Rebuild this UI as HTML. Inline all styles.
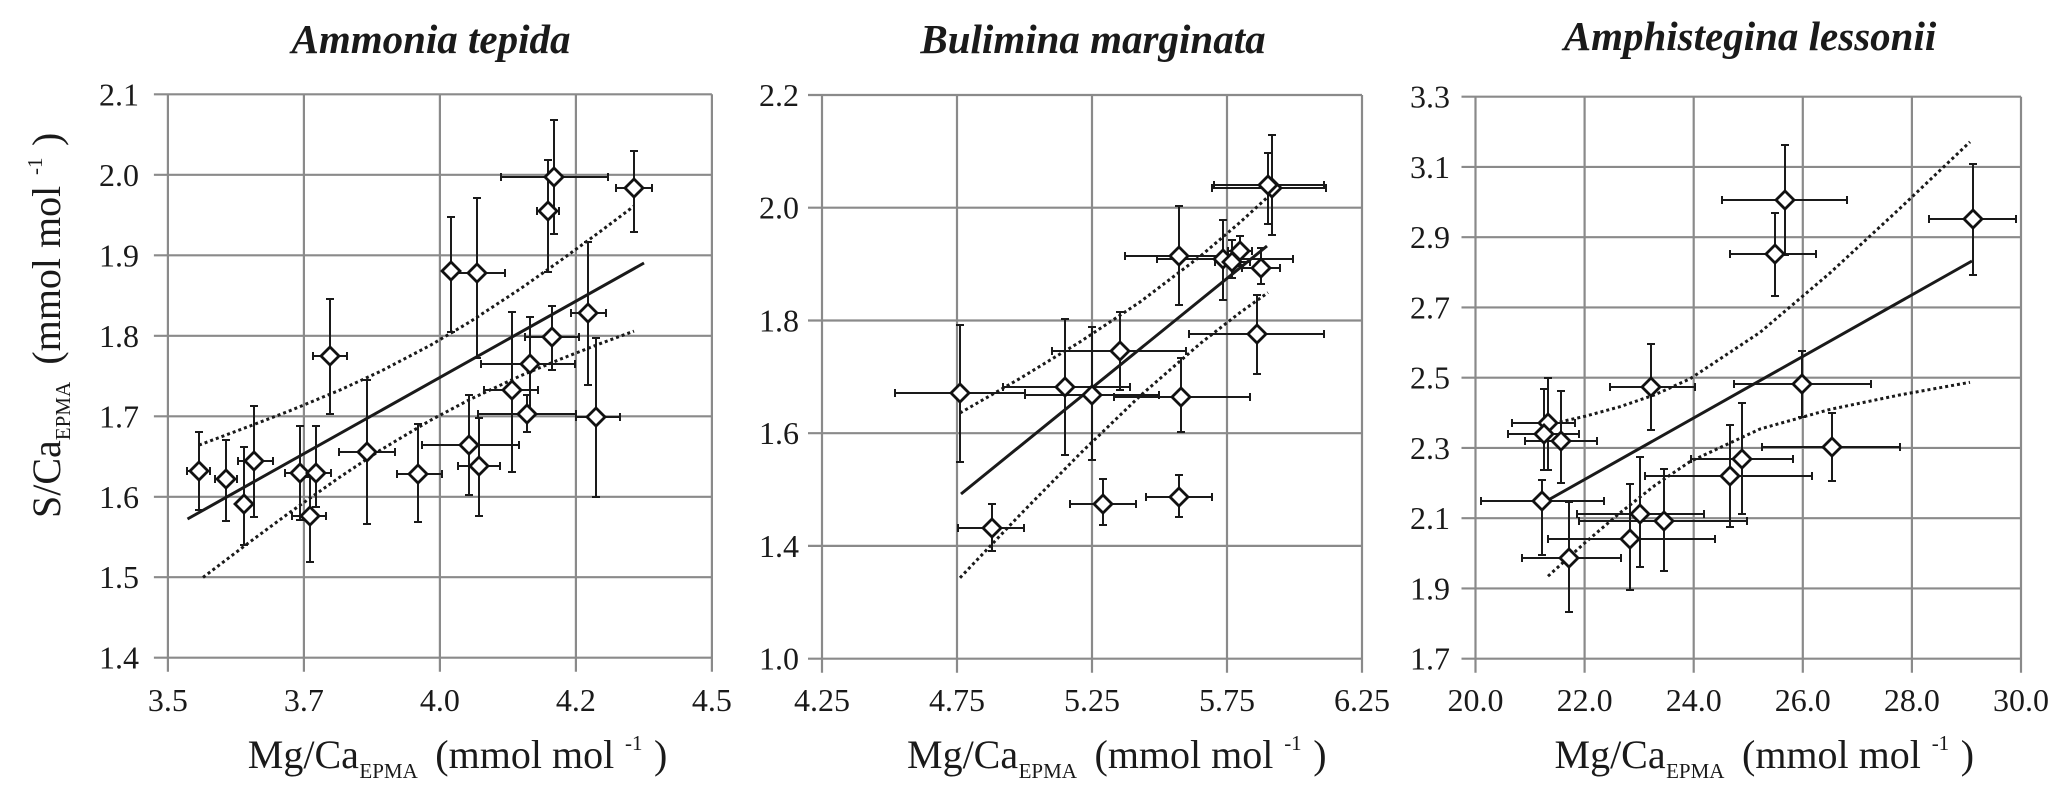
<!DOCTYPE html>
<html><head><meta charset="utf-8"><style>
html,body{margin:0;padding:0;background:#fff;}
svg{display:block;}
text{font-family:"Liberation Serif","Times New Roman",serif;fill:#1a1a1a;}
.t{font-size:41px;font-weight:bold;font-style:italic;}
.tk{font-size:32px;}
.al{font-size:40px;}
.sb{font-size:21px;}
.g{stroke:#8a8a8a;stroke-width:2.2;fill:none;}
.eb{stroke:#1a1a1a;stroke-width:2;fill:none;}
.dm{stroke:#111;stroke-width:2.8;fill:#fff;}
.sl{stroke:#1a1a1a;stroke-width:3;fill:none;}
.dl{stroke:#1a1a1a;stroke-width:3;fill:none;stroke-dasharray:3 3;}
</style></head><body>
<svg width="2067" height="800" viewBox="0 0 2067 800" xmlns="http://www.w3.org/2000/svg">
<rect width="2067" height="800" fill="#fff"/>

<!-- Titles -->
<text class="t" x="431" y="53" text-anchor="middle">Ammonia tepida</text>
<text class="t" x="1093" y="53" text-anchor="middle">Bulimina marginata</text>
<text class="t" x="1750" y="50" text-anchor="middle">Amphistegina lessonii</text>

<!-- ===== Panel 1 grid ===== -->
<g class="g">
<path d="M167.9 94.3V671.7M303.9 94.3V671.7M439.9 94.3V671.7M575.9 94.3V671.7M711.9 94.3V671.7"/>
<path d="M153.9 94.3H711.9M153.9 174.8H711.9M153.9 255.3H711.9M153.9 335.8H711.9M153.9 416.3H711.9M153.9 496.8H711.9M153.9 577.2H711.9M153.9 657.7H711.9"/>
</g>
<g class="tk" text-anchor="end">
<text x="139" y="105.3">2.1</text><text x="139" y="185.8">2.0</text><text x="139" y="266.3">1.9</text><text x="139" y="346.8">1.8</text>
<text x="139" y="427.3">1.7</text><text x="139" y="507.8">1.6</text><text x="139" y="588.2">1.5</text><text x="139" y="668.7">1.4</text>
</g>
<g class="tk" text-anchor="middle">
<text x="167.9" y="711">3.5</text><text x="303.9" y="711">3.7</text><text x="439.9" y="711">4.0</text><text x="575.9" y="711">4.2</text><text x="711.9" y="711">4.5</text>
</g>

<!-- ===== Panel 2 grid ===== -->
<g class="g">
<path d="M822 95V672.7M957 95V672.7M1092 95V672.7M1227 95V672.7M1362 95V672.7"/>
<path d="M808 95H1362M808 207.7H1362M808 320.5H1362M808 433.2H1362M808 545.9H1362M808 658.7H1362"/>
</g>
<g class="tk" text-anchor="end">
<text x="799" y="106">2.2</text><text x="799" y="218.7">2.0</text><text x="799" y="331.5">1.8</text>
<text x="799" y="444.2">1.6</text><text x="799" y="556.9">1.4</text><text x="799" y="669.7">1.0</text>
</g>
<g class="tk" text-anchor="middle">
<text x="822" y="711">4.25</text><text x="957" y="711">4.75</text><text x="1092" y="711">5.25</text><text x="1227" y="711">5.75</text><text x="1362" y="711">6.25</text>
</g>

<!-- ===== Panel 3 grid ===== -->
<g class="g">
<path d="M1475.5 96.7V672.7M1584.6 96.7V672.7M1693.7 96.7V672.7M1802.8 96.7V672.7M1911.9 96.7V672.7M2021 96.7V672.7"/>
<path d="M1461.5 96.7H2021M1461.5 166.95H2021M1461.5 237.2H2021M1461.5 307.45H2021M1461.5 377.7H2021M1461.5 447.95H2021M1461.5 518.2H2021M1461.5 588.45H2021M1461.5 658.7H2021"/>
</g>
<g class="tk" text-anchor="end">
<text x="1450" y="107.7">3.3</text><text x="1450" y="178">3.1</text><text x="1450" y="248.2">2.9</text><text x="1450" y="318.5">2.7</text>
<text x="1450" y="388.7">2.5</text><text x="1450" y="459">2.3</text><text x="1450" y="529.2">2.1</text><text x="1450" y="599.5">1.9</text><text x="1450" y="669.7">1.7</text>
</g>
<g class="tk" text-anchor="middle">
<text x="1475.5" y="711">20.0</text><text x="1584.6" y="711">22.0</text><text x="1693.7" y="711">24.0</text><text x="1802.8" y="711">26.0</text><text x="1911.9" y="711">28.0</text><text x="2021" y="711">30.0</text>
</g>

<!-- ===== Axis labels ===== -->
<g>
<text class="al" x="247.8" y="768">Mg/Ca</text><text class="sb" x="359.4" y="778">EPMA</text><text class="al" x="435.3" y="768">(mmol mol</text><text class="sb" x="625" y="750">-1</text><text class="al" x="654" y="768">)</text>
</g>
<g>
<text class="al" x="907" y="768">Mg/Ca</text><text class="sb" x="1018.6" y="778">EPMA</text><text class="al" x="1094.5" y="768">(mmol mol</text><text class="sb" x="1284.2" y="750">-1</text><text class="al" x="1313.2" y="768">)</text>
</g>
<g>
<text class="al" x="1554.5" y="768">Mg/Ca</text><text class="sb" x="1666.1" y="778">EPMA</text><text class="al" x="1742" y="768">(mmol mol</text><text class="sb" x="1931.7" y="750">-1</text><text class="al" x="1960.7" y="768">)</text>
</g>
<g transform="translate(60,518) rotate(-90)">
<text class="al" x="0" y="0">S/Ca</text><text class="sb" x="77.8" y="10">EPMA</text><text class="al" x="153.4" y="0">(mmol mol</text><text class="sb" x="343" y="-18">-1</text><text class="al" x="372" y="0">)</text>
</g>

<!-- ===== Regression lines ===== -->
<path class="sl" d="M187.5 519L644 263"/>
<polyline class="dl" points="199,445.1 250,426 290,410.7 340,390 380,371.6 430,345.5 470,321.8 520,289 560,260.9 600,231.7 634,206.1"/>
<polyline class="dl" points="203,577.4 250,541.8 290,512.3 340,477 380,450.4 430,420.5 470,399.4 520,376 560,359.3 600,343.7 634,331.1"/>

<path class="sl" d="M961 494L1267 246"/>
<polyline class="dl" points="960,413 1020,378.4 1080,341.9 1140,302 1200,256.5 1240,222.4 1268,196.8"/>
<polyline class="dl" points="960,577.8 1020,514.8 1080,453.7 1140,396 1200,343.7 1240,312.6 1268,292.6"/>

<path class="sl" d="M1550 499L1972 261"/>
<polyline class="dl" points="1548,424.6 1585,416.3 1620,406.7 1655,394.7 1690,378.8 1760,332.4 1830,273 1900,208.3 1970,141.9"/>
<polyline class="dl" points="1548,576.2 1585,542.7 1620,512.9 1655,485.3 1690,461.6 1760,429 1830,409.4 1900,394.9 1970,382.3"/>

<!-- ===== Error bars ===== -->
<path class="eb" d="
M501 177H608M501 173V181M608 173V181M554 120V234M550 120H558M550 234H558
M616 188H652M616 184V192M652 184V192M634 151V232M630 151H638M630 232H638
M537 211H559M537 207V215M559 207V215M548 160V272M544 160H552M544 272H552
M451 217V332M447 217H455M447 332H455
M449 273H505M449 269V277M505 269V277M477 198V358M473 198H481M473 358H481
M571 313H606M571 309V317M606 309V317M588 242V385M584 242H592M584 385H592
M525 337H579M525 333V341M579 333V341M552 306V370M548 306H556M548 370H556
M313 356H347M313 352V360M347 352V360M330 299V414M326 299H334M326 414H334
M481 364H575M481 360V368M575 360V368M530 317V411M526 317H534M526 411H534
M484 390H538M484 386V394M538 386V394M512 312V472M508 312H516M508 472H516
M478 414H576M478 410V418M576 410V418M527 395V432M523 395H531M523 432H531
M576 417H620M576 413V421M620 413V421M596 338V497M592 338H600M592 497H600
M187 471H210M187 467V475M210 467V475M199 432V510M195 432H203M195 510H203
M215 479H237M215 475V483M237 475V483M226 440V521M222 440H230M222 521H230
M244 447V545M240 447H248M240 545H248
M238 461H273M238 457V465M273 457V465M254 406V517M250 406H258M250 517H258
M285 473H315M285 469V477M315 469V477M300 426V520M296 426H304M296 520H304
M304 473H331M304 469V477M331 469V477M316 426V507M312 426H320M312 507H320
M292 516H326M292 512V520M326 512V520M310 477V562M306 477H314M306 562H314
M339 452H395M339 448V456M395 448V456M367 380V524M363 380H371M363 524H371
M397 474H442M397 470V478M442 470V478M418 424V522M414 424H422M414 522H422
M422 445H519M422 441V449M519 441V449M469 395V495M465 395H473M465 495H473
M458 466H500M458 462V470M500 462V470M479 418V516M475 418H483M475 516H483
"/>
<path class="eb" d="
M1212 188H1326M1212 184V192M1326 184V192M1272 135V235M1268 135H1276M1268 235H1276
M1214 185H1324M1214 181V189M1324 181V189M1268 153V224M1264 153H1272M1264 224H1272
M1125 256H1226M1125 252V260M1226 252V260M1179 206V305M1175 206H1183M1175 305H1183
M1157 259H1293M1157 255V263M1293 255V263M1223 220V300M1219 220H1227M1219 300H1227
M1215 262H1250M1215 258V266M1250 258V266M1232 240V278M1228 240H1236M1228 278H1236
M1228 251H1252M1228 247V255M1252 247V255M1240 236V266M1236 236H1244M1236 266H1244
M1242 268H1280M1242 264V272M1280 264V272M1261 248V284M1257 248H1265M1257 284H1265
M1189 334H1324M1189 330V338M1324 330V338M1257 295V374M1253 295H1261M1253 374H1261
M1052 351H1186M1052 347V355M1186 347V355M1120 312V390M1116 312H1124M1116 390H1124
M1003 387H1130M1003 383V391M1130 383V391M1065 319V455M1061 319H1069M1061 455H1069
M895 393H1025M895 389V397M1025 389V397M960 325V462M956 325H964M956 462H964
M1025 395H1159M1025 391V399M1159 391V399M1092 327V460M1088 327H1096M1088 460H1096
M1114 397H1250M1114 393V401M1250 393V401M1181 358V432M1177 358H1185M1177 432H1185
M958 528H1024M958 524V532M1024 524V532M992 504V551M988 504H996M988 551H996
M1070 504H1136M1070 500V508M1136 500V508M1103 479V525M1099 479H1107M1099 525H1107
M1146 497H1212M1146 493V501M1212 493V501M1179 475V517M1175 475H1183M1175 517H1183
"/>
<path class="eb" d="
M1722 200H1847M1722 196V204M1847 196V204M1785 145V255M1781 145H1789M1781 255H1789
M1730 254H1816M1730 250V258M1816 250V258M1775 213V296M1771 213H1779M1771 296H1779
M1929 219H2016M1929 215V223M2016 215V223M1973 164V275M1969 164H1977M1969 275H1977
M1610 387H1695M1610 383V391M1695 383V391M1651 344V430M1647 344H1655M1647 430H1655
M1734 384H1871M1734 380V388M1871 380V388M1802 351V417M1798 351H1806M1798 417H1806
M1512 423H1575M1512 419V427M1575 419V427M1548 378V470M1544 378H1552M1544 470H1552
M1508 434H1579M1508 430V438M1579 430V438M1544 389V470M1540 389H1548M1540 470H1548
M1525 441H1597M1525 437V445M1597 437V445M1561 391V483M1557 391H1565M1557 483H1565
M1481 501H1604M1481 497V505M1604 497V505M1542 480V555M1538 480H1546M1538 555H1546
M1522 558H1621M1522 554V562M1621 554V562M1569 502V612M1565 502H1573M1565 612H1573
M1548 539H1715M1548 535V543M1715 535V543M1630 484V590M1626 484H1634M1626 590H1634
M1577 514H1704M1577 510V518M1704 510V518M1640 457V567M1636 457H1644M1636 567H1644
M1579 521H1747M1579 517V525M1747 517V525M1664 469V571M1660 469H1668M1660 571H1668
M1645 476H1812M1645 472V480M1812 472V480M1730 425V527M1726 425H1734M1726 527H1734
M1691 459H1793M1691 455V463M1793 455V463M1742 403V514M1738 403H1746M1738 514H1746
M1762 447H1900M1762 443V451M1900 443V451M1832 413V481M1828 413H1836M1828 481H1836
"/>

<!-- ===== Diamonds ===== -->
<g class="dm">
<path d="M554 168l9 9l-9 9l-9-9z"/><path d="M634 179l9 9l-9 9l-9-9z"/><path d="M548 202l9 9l-9 9l-9-9z"/>
<path d="M451 262l9 9l-9 9l-9-9z"/><path d="M477 264l9 9l-9 9l-9-9z"/><path d="M588 304l9 9l-9 9l-9-9z"/>
<path d="M552 328l9 9l-9 9l-9-9z"/><path d="M330 347l9 9l-9 9l-9-9z"/><path d="M530 355l9 9l-9 9l-9-9z"/>
<path d="M512 381l9 9l-9 9l-9-9z"/><path d="M527 405l9 9l-9 9l-9-9z"/><path d="M596 408l9 9l-9 9l-9-9z"/>
<path d="M199 462l9 9l-9 9l-9-9z"/><path d="M226 470l9 9l-9 9l-9-9z"/><path d="M244 495l9 9l-9 9l-9-9z"/>
<path d="M254 452l9 9l-9 9l-9-9z"/><path d="M300 464l9 9l-9 9l-9-9z"/><path d="M316 464l9 9l-9 9l-9-9z"/>
<path d="M310 507l9 9l-9 9l-9-9z"/><path d="M367 443l9 9l-9 9l-9-9z"/><path d="M418 465l9 9l-9 9l-9-9z"/>
<path d="M469 436l9 9l-9 9l-9-9z"/><path d="M479 457l9 9l-9 9l-9-9z"/>

<path d="M1272 179l9 9l-9 9l-9-9z"/><path d="M1268 176l9 9l-9 9l-9-9z"/><path d="M1179 247l9 9l-9 9l-9-9z"/>
<path d="M1223 250l9 9l-9 9l-9-9z"/><path d="M1232 253l9 9l-9 9l-9-9z"/><path d="M1240 242l9 9l-9 9l-9-9z"/>
<path d="M1261 259l9 9l-9 9l-9-9z"/><path d="M1257 325l9 9l-9 9l-9-9z"/><path d="M1120 342l9 9l-9 9l-9-9z"/>
<path d="M1065 378l9 9l-9 9l-9-9z"/><path d="M960 384l9 9l-9 9l-9-9z"/><path d="M1092 386l9 9l-9 9l-9-9z"/>
<path d="M1181 388l9 9l-9 9l-9-9z"/><path d="M992 519l9 9l-9 9l-9-9z"/><path d="M1103 495l9 9l-9 9l-9-9z"/>
<path d="M1179 488l9 9l-9 9l-9-9z"/>

<path d="M1785 191l9 9l-9 9l-9-9z"/><path d="M1775 245l9 9l-9 9l-9-9z"/><path d="M1973 210l9 9l-9 9l-9-9z"/>
<path d="M1651 378l9 9l-9 9l-9-9z"/><path d="M1802 375l9 9l-9 9l-9-9z"/><path d="M1548 414l9 9l-9 9l-9-9z"/>
<path d="M1544 425l9 9l-9 9l-9-9z"/><path d="M1561 432l9 9l-9 9l-9-9z"/><path d="M1542 492l9 9l-9 9l-9-9z"/>
<path d="M1569 549l9 9l-9 9l-9-9z"/><path d="M1630 530l9 9l-9 9l-9-9z"/><path d="M1640 505l9 9l-9 9l-9-9z"/>
<path d="M1664 512l9 9l-9 9l-9-9z"/><path d="M1730 467l9 9l-9 9l-9-9z"/><path d="M1742 450l9 9l-9 9l-9-9z"/>
<path d="M1832 438l9 9l-9 9l-9-9z"/>
</g>
</svg>
</body></html>
